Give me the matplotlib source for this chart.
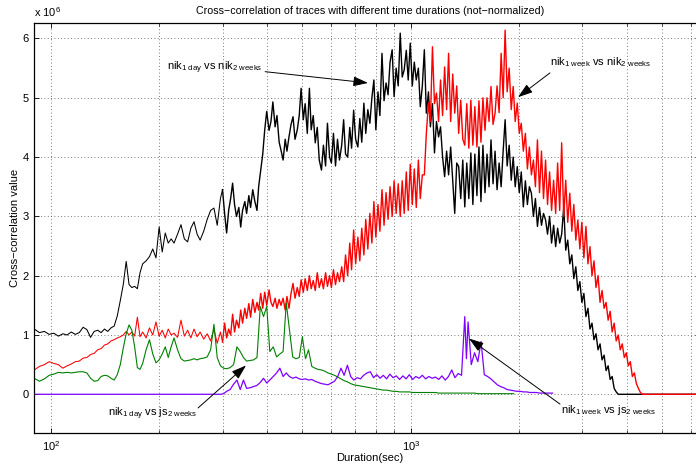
import matplotlib
matplotlib.use('Agg')
import matplotlib.pyplot as plt
import numpy as np
from matplotlib.ticker import FixedLocator, LogFormatterMathtext, NullFormatter

plt.rcParams['font.family'] = ['Liberation Sans', 'DejaVu Sans']
plt.rcParams['mathtext.fontset'] = 'custom'
plt.rcParams['mathtext.rm'] = 'Liberation Sans'
plt.rcParams['mathtext.it'] = 'Liberation Sans:italic'
plt.rcParams['mathtext.bf'] = 'Liberation Sans:bold'

nan = np.nan

# ---------------- Duration (sec) sample positions ----------------
durations = [
    90, 93, 96, 99, 102, 105, 108, 111, 114, 117,
    120, 123, 126, 129, 132, 135, 138, 141, 144, 147,
    150, 153, 156, 159, 162, 165, 168, 171, 174, 177,
    180, 184, 188, 192, 196, 200, 204, 208, 212, 216,
    220, 225, 230, 235, 240, 245, 250, 255, 260, 266,
    272, 278, 284, 290, 296, 302, 308, 315, 322, 329,
    336, 343, 350, 358, 366, 374, 382, 390, 398, 406,
    415, 424, 433, 442, 451, 460, 470, 480, 490, 500,
    510, 520, 531, 542, 553, 565, 577, 589, 601, 614,
    627, 640, 653, 667, 681, 695, 710, 725, 740, 756,
    772, 788, 805, 822, 839, 857, 875, 893, 912, 931,
    951, 971, 991, 1012, 1033, 1055, 1077, 1100, 1123, 1147,
    1171, 1196, 1221, 1247, 1273, 1300, 1327, 1355, 1384, 1413,
    1428, 1443, 1473, 1504, 1536, 1568, 1601, 1635, 1669, 1704, 1740,
    1777, 1814, 1852, 1891, 1931, 1972, 2014, 2056, 2099, 2143,
    2188, 2234, 2281, 2329, 2378, 2428, 2479, 2531, 2584, 2638,
    2693, 2750, 2808, 2867, 2927, 2988, 3051, 3115, 3180, 3247,
    3315, 3385, 3456, 3528, 3602, 3678, 3755, 3834, 3914, 3996,
    4080, 4165, 4252, 4341, 4432, 4525, 6400,
]

# finer sampling used for the two very noisy nik-vs-nik traces (300 s .. 4460 s)
durations_fine = [
    300, 304, 308, 312, 316, 320, 324, 328, 333, 337,
    341, 346, 350, 355, 359, 364, 369, 374, 378, 383,
    388, 393, 398, 404, 409, 414, 420, 425, 431, 436,
    442, 448, 453, 459, 465, 471, 477, 484, 490, 496,
    503, 509, 516, 523, 529, 536, 543, 550, 557, 565,
    572, 580, 587, 595, 602, 610, 618, 626, 634, 643,
    651, 659, 668, 677, 685, 694, 703, 713, 722, 731,
    741, 750, 760, 770, 780, 790, 800, 811, 821, 832,
    843, 854, 865, 876, 888, 899, 911, 923, 935, 947,
    959, 972, 984, 997, 1010, 1023, 1036, 1050, 1063, 1077,
    1091, 1105, 1120, 1134, 1149, 1164, 1179, 1195, 1210, 1226,
    1242, 1258, 1274, 1291, 1308, 1325, 1342, 1359, 1377, 1395,
    1413, 1431, 1450, 1469, 1488, 1507, 1527, 1547, 1567, 1587,
    1608, 1629, 1650, 1671, 1693, 1715, 1737, 1760, 1783, 1806,
    1829, 1853, 1877, 1902, 1926, 1951, 1977, 2002, 2028, 2055,
    2082, 2109, 2136, 2164, 2192, 2220, 2249, 2279, 2308, 2338,
    2369, 2399, 2431, 2462, 2494, 2527, 2559, 2593, 2626, 2661,
    2695, 2730, 2766, 2802, 2838, 2875, 2912, 2950, 2988, 3027,
    3067, 3107, 3147, 3188, 3229, 3271, 3314, 3357, 3400, 3445,
    3489, 3535, 3581, 3627, 3674, 3722, 3771, 3820, 3869, 3920,
    3971, 4022, 4074, 4127, 4181, 4235, 4290, 4346, 4403, 4460,
]
durations_tail = [4525, 6400]

# ---------------- Cross-correlation values (x 10^6) ----------------
# nik_1day vs nik_2weeks (black)
nik1day_nik2w_low = [          # at durations[:55]
    1.10, 1.04, 1.06, 1.01, 1.03, 0.98, 1.02, 1.00, 1.05, 1.01,
    1.04, 1.13, 1.09, 0.96, 1.06, 1.08, 1.04, 1.10, 1.06, 1.12,
    1.15, 1.32, 1.58, 1.85, 2.24, 1.85, 1.80, 1.82, 1.78, 2.05,
    2.20, 2.25, 2.32, 2.45, 2.30, 2.82, 2.40, 2.72, 2.55, 2.62,
    2.55, 2.70, 2.86, 2.62, 2.57, 2.80, 2.91, 2.70, 2.60, 2.75,
    2.95, 3.10, 3.14, 2.85, 3.30,
]
nik1day_nik2w_fine = [         # at durations_fine
    3.45, 3.05, 2.72, 3.10, 3.30, 3.56, 3.20, 3.00, 3.15, 2.82,
    3.10, 3.25, 3.05, 3.35, 3.15, 3.45, 3.25, 3.10, 3.50, 3.78,
    4.05, 4.46, 4.77, 4.45, 4.60, 4.93, 4.51, 4.70, 4.25, 4.12,
    3.95, 4.30, 4.10, 4.34, 4.55, 4.68, 4.30, 4.46, 4.70, 5.16,
    4.63, 4.90, 4.40, 5.16, 4.46, 4.70, 4.24, 4.50, 3.95, 3.78,
    4.20, 3.85, 4.57, 4.00, 3.90, 4.40, 3.85, 4.30, 3.95, 4.20,
    4.63, 4.05, 4.00, 4.50, 4.15, 4.79, 4.30, 4.17, 4.65, 4.25,
    4.91, 4.40, 4.80, 4.57, 5.00, 5.30, 4.46, 5.10, 4.70, 5.75,
    4.95, 5.25, 5.05, 5.60, 5.81, 5.02, 5.50, 5.20, 6.09, 5.35,
    5.47, 5.80, 5.30, 5.92, 5.20, 5.60, 5.30, 5.50, 4.85, 5.20,
    5.81, 4.74, 5.10, 4.51, 4.90, 4.07, 4.60, 4.34, 4.51, 4.00,
    3.67, 4.10, 3.70, 4.17, 3.60, 3.05, 3.90, 3.84, 3.30, 3.95,
    3.16, 3.90, 3.30, 4.07, 3.20, 4.05, 3.35, 4.17, 3.25, 4.20,
    3.40, 4.05, 3.50, 4.29, 3.55, 4.10, 3.45, 3.90, 3.50, 4.10,
    4.63, 3.85, 4.20, 3.61, 4.00, 3.50, 3.84, 3.40, 3.75, 3.16,
    3.60, 3.20, 3.50, 3.39, 3.00, 3.30, 2.83, 3.15, 2.85, 3.05,
    2.94, 2.70, 3.00, 2.55, 2.85, 2.49, 2.80, 2.55, 2.70, 3.16,
    2.43, 2.60, 2.20, 2.35, 1.95, 2.15, 1.75, 1.90, 1.55, 1.70,
    1.31, 1.45, 1.10, 1.20, 0.92, 1.02, 0.75, 0.85, 0.58, 0.66,
    0.40, 0.48, 0.25, 0.30, 0.10, 0.04, 0.00, 0.00, 0.00, 0.00,
    0.00, 0.00, 0.00, 0.00, 0.00, 0.00, 0.00, 0.00, 0.00, 0.00,
]
nik1day_nik2w_tail = [0.00, 0.00]

# nik_1week vs nik_2weeks (red)
nik1week_nik2w_low = [         # at durations[:55]
    0.41, 0.47, 0.50, 0.55, 0.52, 0.50, 0.44, 0.48, 0.51, 0.55,
    0.56, 0.61, 0.62, 0.67, 0.69, 0.75, 0.77, 0.83, 0.85, 0.90,
    0.92, 0.95, 0.97, 1.00, 1.06, 1.00, 1.05, 0.98, 1.30, 0.97,
    1.05, 0.95, 1.12, 1.00, 1.22, 0.98, 1.08, 0.95, 1.10, 1.00,
    1.03, 0.96, 1.25, 0.98, 1.08, 0.95, 1.10, 0.97, 1.05, 0.93,
    1.02, 0.90, 1.10, 0.86, 1.05,
]
nik1week_nik2w_fine = [        # at durations_fine
    0.88, 1.20, 0.95, 1.10, 1.00, 1.35, 1.05, 1.25, 1.12, 1.42,
    1.20, 1.45, 1.28, 1.53, 1.30, 1.60, 1.38, 1.55, 1.42, 1.70,
    1.45, 1.72, 1.50, 1.76, 1.55, 1.48, 1.62, 1.45, 1.60, 1.50,
    1.62, 1.42, 1.65, 1.45, 1.70, 1.87, 1.62, 1.80, 1.65, 1.93,
    1.72, 1.95, 1.75, 2.00, 1.78, 1.92, 1.75, 2.05, 1.80, 1.95,
    1.78, 2.05, 1.82, 2.00, 1.80, 2.10, 1.85, 2.05, 1.90, 2.15,
    1.90, 2.35, 2.00, 2.55, 2.10, 2.77, 2.20, 2.65, 2.25, 2.80,
    2.35, 2.95, 2.45, 3.05, 2.55, 3.25, 2.65, 3.20, 2.75, 3.45,
    2.85, 3.40, 2.95, 3.50, 3.00, 3.60, 3.05, 3.55, 3.00, 3.60,
    3.05, 3.75, 3.10, 3.88, 3.20, 3.80, 3.15, 3.95, 3.30, 3.70,
    3.70, 4.40, 4.91, 4.60, 5.86, 4.90, 5.08, 4.60, 5.30, 4.70,
    5.52, 4.80, 5.75, 4.60, 5.40, 4.74, 5.20, 4.40, 4.96, 4.30,
    4.20, 4.90, 4.15, 4.96, 4.20, 4.85, 4.17, 4.95, 4.25, 5.00,
    4.45, 5.00, 4.60, 5.19, 4.55, 4.74, 5.20, 4.75, 5.75, 5.00,
    6.14, 5.10, 5.50, 4.80, 5.19, 4.60, 4.91, 4.40, 4.57, 4.10,
    4.40, 3.80, 4.17, 3.70, 3.95, 3.50, 4.29, 3.40, 4.10, 3.30,
    3.95, 3.20, 3.75, 3.10, 3.61, 3.05, 3.90, 3.10, 4.24, 3.00,
    3.61, 2.90, 3.39, 2.75, 3.20, 2.60, 2.94, 2.45, 2.90, 2.30,
    2.83, 2.20, 2.49, 2.00, 2.25, 1.80, 2.00, 1.55, 1.75, 1.45,
    1.55, 1.25, 1.40, 1.05, 1.20, 0.90, 1.00, 0.75, 0.85, 0.62,
    0.70, 0.48, 0.55, 0.30, 0.36, 0.18, 0.10, 0.03, 0.00, 0.00,
]
nik1week_nik2w_tail = [0.00, 0.00]

# nik_1day vs js_2weeks (green), at durations
nik1day_vs_js2weeks = [
    0.27, 0.22, 0.26, 0.32, 0.34, 0.37, 0.36, 0.37, 0.36, 0.37,
    0.38, 0.38, 0.36, 0.27, 0.22, 0.23, 0.30, 0.32, 0.31, 0.27,
    0.24, 0.33, 0.50, 0.78, 1.02, 1.17, 1.08, 0.80, 0.45, 0.42,
    0.52, 0.75, 0.92, 0.68, 0.53, 0.58, 0.68, 0.80, 0.62, 0.80,
    0.95, 0.75, 0.60, 0.56, 0.57, 0.58, 0.60, 0.58, 0.60, 0.61,
    0.63, 0.75, 1.18, 0.62, 0.48, 0.44, 0.43, 0.45, 0.50, 0.80,
    0.72, 0.62, 0.56, 0.57, 0.58, 0.62, 1.48, 1.31, 1.48, 0.72,
    0.80, 0.63, 0.68, 0.72, 1.54, 1.10, 0.63, 0.60, 0.62, 0.97,
    0.60, 0.75, 0.47, 0.44, 0.42, 0.41, 0.39, 0.36, 0.34, 0.32,
    0.29, 0.26, 0.23, 0.21, 0.18, 0.16, 0.15, 0.14, 0.13, 0.12,
    0.11, 0.10, 0.09, 0.08, 0.07, 0.07, 0.06, 0.05, 0.05, 0.04,
    0.04, 0.04, 0.04, 0.03, 0.03, 0.03, 0.03, 0.03, 0.03, 0.03,
    0.03, 0.02, 0.02, 0.02, 0.02, 0.02, 0.02, 0.02, 0.02, 0.02,
    0.02, 0.02, 0.02, 0.02, 0.01, 0.01, 0.01, 0.01, 0.01, 0.01, 0.01,
    0.01, 0.01, 0.01, 0.01, 0.01, nan, nan, nan, nan, nan,
    nan, nan, nan, nan, nan, nan, nan, nan, nan, nan,
    nan, nan, nan, nan, nan, nan, nan, nan, nan, nan,
    nan, nan, nan, nan, nan, nan, nan, nan, nan, nan,
    nan, nan, nan, nan, nan, nan, nan,
]

# nik_1week vs js_2weeks (purple), at durations
nik1week_vs_js2weeks = [
    0, 0, 0, 0, 0, 0, 0, 0, 0, 0,
    0, 0, 0, 0, 0, 0, 0, 0, 0, 0,
    0, 0, 0, 0, 0, 0, 0, 0, 0, 0,
    0, 0, 0, 0, 0, 0, 0, 0, 0, 0,
    0, 0, 0, 0, 0, 0, 0, 0, 0, 0,
    0, 0, 0, 0, 0, 0.01, 0.05, 0.08, 0.17, 0.24,
    0.08, 0.24, 0.10, 0.11, 0.13, 0.15, 0.20, 0.27, 0.19, 0.24,
    0.30, 0.36, 0.44, 0.30, 0.36, 0.30, 0.27, 0.29, 0.26, 0.25,
    0.26, 0.24, 0.25, 0.22, 0.20, 0.18, 0.17, 0.16, 0.19, 0.22,
    0.30, 0.44, 0.32, 0.49, 0.30, 0.24, 0.28, 0.26, 0.32, 0.36,
    0.38, 0.28, 0.33, 0.27, 0.32, 0.26, 0.34, 0.28, 0.31, 0.25,
    0.31, 0.26, 0.33, 0.25, 0.30, 0.27, 0.32, 0.26, 0.30, 0.27,
    0.29, 0.25, 0.31, 0.24, 0.30, 0.41, 0.28, 0.35, 0.32, 1.31,
    0.60, 1.22, 0.50, 0.70, 0.55, 0.89, 0.33, 0.30, 0.26, 0.21, 0.16,
    0.13, 0.11, 0.08, 0.07, 0.06, 0.05, 0.05, 0.04, 0.04, 0.03,
    0.03, 0.03, 0.02, 0.02, 0.02, 0.02, 0.02, nan, nan, nan,
    nan, nan, nan, nan, nan, nan, nan, nan, nan, nan,
    nan, nan, nan, nan, nan, nan, nan, nan, nan, nan,
    nan, nan, nan, nan, nan, nan, nan,
]

y_ticks = [0, 1, 2, 3, 4, 5, 6]
x_major_ticks = [100, 1000]
x_minor_ticks = [200, 300, 400, 500, 600, 700, 800, 900,
                 2000, 3000, 4000, 5000, 6000]

# ---------------- assemble ----------------
n_low = len(nik1day_nik2w_low)
low_x = durations[:n_low] + durations_fine[:1]
noisy_x = durations_fine + durations_tail
black_low = nik1day_nik2w_low + nik1day_nik2w_fine[:1]
black_noisy = nik1day_nik2w_fine + nik1day_nik2w_tail
red_low = nik1week_nik2w_low + nik1week_nik2w_fine[:1]
red_noisy = nik1week_nik2w_fine + nik1week_nik2w_tail
assert len(noisy_x) == len(black_noisy) == len(red_noisy)
assert len(low_x) == len(black_low) == len(red_low)
assert len(durations) == len(nik1day_vs_js2weeks) == len(nik1week_vs_js2weeks)

W, H = 696, 467
fig = plt.figure(figsize=(W / 100, H / 100), dpi=100)
ax = fig.add_axes([34.3 / W, 1 - 433.3 / H, (700 - 34.3) / W, (433.3 - 22.7) / H])

ax.plot(low_x, black_low, color='k', lw=0.75)
ax.plot(noisy_x, black_noisy, color='k', lw=1.0)
ax.plot(low_x, red_low, color='#ff0000', lw=0.75)
ax.plot(noisy_x, red_noisy, color='#ff0000', lw=1.0)
ax.plot(durations, nik1day_vs_js2weeks, color='#008000', lw=0.8)
ax.plot(durations, nik1week_vs_js2weeks, color='#8000ff', lw=0.9)

ax.set_xscale('log')
ax.set_xlim(90, 6362)
ax.set_ylim(-0.658, 6.266)
ax.set_yticks(y_ticks)
ax.set_yticklabels([str(t) for t in y_ticks])
ax.xaxis.set_major_locator(FixedLocator(x_major_ticks))
ax.xaxis.set_major_formatter(LogFormatterMathtext())
ax.xaxis.set_minor_locator(FixedLocator(x_minor_ticks))
ax.xaxis.set_minor_formatter(NullFormatter())

ax.tick_params(which='both', direction='in', top=True, right=True,
               labelsize=8, colors='k')
ax.tick_params(which='major', length=3.8, width=0.6, pad=4)
ax.tick_params(which='minor', length=2.2, width=0.5)
for s in ax.spines.values():
    s.set_linewidth(0.9)

gstyle = dict(linestyle=(0, (1, 3)), color='0.3', lw=0.6)
ax.grid(which='major', axis='both', **gstyle)
ax.grid(which='minor', axis='x', **gstyle)
ax.set_axisbelow(True)

# ---------------- texts ----------------
fig.text(34.3 / W, 1 - 17.3 / H, r'x 10$^{6}$', fontsize=8, ha='left', va='baseline')
fig.text(370 / W, 1 - 11 / H,
         'Cross\u2212correlation of traces with different time durations (not\u2212normalized)',
         fontsize=7.7, ha='center', va='center')
fig.text(15 / W, 1 - 228 / H, 'Cross\u2212correlation value', fontsize=8,
         rotation=90, ha='center', va='center')
fig.text(370 / W, 1 - 458 / H, 'Duration(sec)', fontsize=8, ha='center', va='center')

arrow = dict(arrowstyle='-|>,head_length=0.9,head_width=0.3', color='k',
             lw=0.7, shrinkA=0, shrinkB=0, mutation_scale=10)

ax.text(210.4, 5.457, r'nik$_{\mathrm{1\ day}}$ vs nik$_{\mathrm{2\ weeks}}$',
        fontsize=8, ha='left', va='baseline')
ax.annotate('', xy=(761, 5.25), xytext=(394, 5.44), arrowprops=arrow)

ax.text(2437, 5.553, r'nik$_{\mathrm{1\ week}}$ vs nik$_{\mathrm{2\ weeks}}$',
        fontsize=8, ha='left', va='baseline')
ax.annotate('', xy=(1986, 5.01), xytext=(2437, 5.42), arrowprops=arrow)

ax.text(144.3, -0.378, r'nik$_{\mathrm{1\ day}}$ vs js$_{\mathrm{2\ weeks}}$',
        fontsize=8, ha='left', va='baseline')
ax.annotate('', xy=(348.7, 0.486), xytext=(256.6, -0.23), arrowprops=arrow)

ax.text(2616, -0.32, r'nik$_{\mathrm{1\ week}}$ vs js$_{\mathrm{2\ weeks}}$',
        fontsize=8, ha='left', va='baseline')
ax.annotate('', xy=(1452, 0.94), xytext=(2598, -0.165), arrowprops=arrow)

fig.savefig('out.png', dpi=100)
